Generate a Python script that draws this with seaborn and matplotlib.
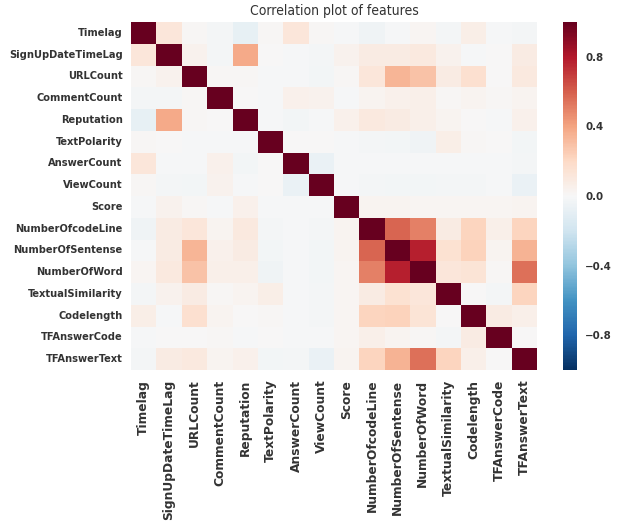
import numpy as np
import pandas as pd
import matplotlib
matplotlib.use("Agg")
import matplotlib.pyplot as plt
import seaborn as sns
from matplotlib import font_manager as fm

features = ["Timelag", "SignUpDateTimeLag", "URLCount", "CommentCount", "Reputation",
            "TextPolarity", "AnswerCount", "ViewCount", "Score", "NumberOfcodeLine",
            "NumberOfSentense", "NumberOfWord", "TextualSimilarity", "Codelength",
            "TFAnswerCode", "TFAnswerText"]

r_timelag      = [1.00, 0.12, 0.01, -0.02, -0.08, 0.01, 0.12, 0.01, -0.01, -0.04, -0.01, 0.02, -0.02, 0.07, -0.01, -0.02]
r_signup       = [0.12, 1.00, 0.04, -0.02, 0.38, 0.00, -0.01, -0.02, 0.04, 0.08, 0.08, 0.10, 0.04, -0.01, 0.00, 0.08]
r_urlcount     = [0.01, 0.04, 1.00, 0.01, 0.01, -0.01, -0.01, -0.03, 0.01, 0.12, 0.34, 0.29, 0.08, 0.16, 0.00, 0.10]
r_comment      = [-0.02, -0.02, 0.01, 1.00, 0.00, -0.01, 0.05, 0.04, -0.01, 0.03, 0.05, 0.06, 0.01, 0.03, 0.01, 0.03]
r_reputation   = [-0.08, 0.38, 0.01, 0.00, 1.00, -0.01, -0.03, -0.01, 0.05, 0.10, 0.08, 0.06, 0.03, 0.00, -0.01, 0.05]
r_polarity     = [0.01, 0.00, -0.01, -0.01, -0.01, 1.00, 0.00, 0.00, -0.01, -0.02, -0.03, -0.04, 0.07, 0.01, 0.00, -0.03]
r_answercount  = [0.12, -0.01, -0.01, 0.05, -0.03, 0.00, 1.00, -0.07, -0.01, -0.01, -0.01, -0.01, -0.01, -0.01, -0.01, -0.02]
r_viewcount    = [0.01, -0.02, -0.03, 0.04, -0.01, 0.00, -0.07, 1.00, -0.01, -0.02, -0.03, -0.03, -0.02, -0.02, -0.01, -0.07]
r_score        = [-0.01, 0.04, 0.01, -0.01, 0.05, -0.01, -0.01, -0.01, 1.00, 0.03, 0.03, 0.02, 0.02, 0.02, 0.02, 0.03]
r_codeline     = [-0.04, 0.08, 0.12, 0.03, 0.10, -0.02, -0.01, -0.02, 0.03, 1.00, 0.58, 0.50, 0.08, 0.22, 0.06, 0.22]
r_sentense     = [-0.01, 0.08, 0.34, 0.05, 0.08, -0.03, -0.01, -0.03, 0.03, 0.58, 1.00, 0.78, 0.15, 0.23, 0.03, 0.35]
r_word         = [0.02, 0.10, 0.29, 0.06, 0.06, -0.04, -0.01, -0.03, 0.02, 0.50, 0.78, 1.00, 0.12, 0.14, 0.01, 0.55]
r_textsim      = [-0.02, 0.04, 0.08, 0.01, 0.03, 0.07, -0.01, -0.02, 0.02, 0.08, 0.15, 0.12, 1.00, 0.00, -0.02, 0.22]
r_codelength   = [0.07, -0.01, 0.16, 0.03, 0.00, 0.01, -0.01, -0.02, 0.02, 0.22, 0.23, 0.14, 0.00, 1.00, 0.08, 0.06]
r_tfcode       = [-0.01, 0.00, 0.00, 0.01, -0.01, 0.00, -0.01, -0.01, 0.02, 0.06, 0.03, 0.01, -0.02, 0.08, 1.00, 0.00]
r_tftext       = [-0.02, 0.08, 0.10, 0.03, 0.05, -0.03, -0.02, -0.07, 0.03, 0.22, 0.35, 0.55, 0.22, 0.06, 0.00, 1.00]

rows = [r_timelag, r_signup, r_urlcount, r_comment, r_reputation, r_polarity,
        r_answercount, r_viewcount, r_score, r_codeline, r_sentense, r_word,
        r_textsim, r_codelength, r_tfcode, r_tftext]
corr = pd.DataFrame(rows, index=features, columns=features)

sns.set_style("white")
plt.rcParams['font.family'] = ['DejaVu Sans']

cond_bold = None
cond_reg = None
for f in fm.fontManager.ttflist:
    fn = f.fname.lower()
    if fn.endswith("dejavusanscondensed-bold.ttf"):
        cond_bold = f.fname
    if fn.endswith("dejavusanscondensed.ttf"):
        cond_reg = f.fname

def fp_cond_bold(size):
    if cond_bold:
        return fm.FontProperties(fname=cond_bold, size=size)
    return fm.FontProperties(family="DejaVu Sans", weight="bold", size=size * 0.9)

ytick_fp = fp_cond_bold(7.9)
xtick_fp = fm.FontProperties(family="DejaVu Sans", weight="bold", size=8.8)
cbar_fp = fp_cond_bold(8.2)
title_fp = (fm.FontProperties(fname=cond_reg, size=10) if cond_reg
            else fm.FontProperties(family="DejaVu Sans", size=9))

fig = plt.figure(figsize=(6.22, 5.22), dpi=100)
ax = fig.add_axes([131/622, 1 - 370/522, (537 - 131)/622, (370 - 22)/522])
cax = fig.add_axes([563/622, 1 - 370/522, 14/622, (370 - 22)/522])

sns.heatmap(corr, ax=ax, cbar_ax=cax, cmap="RdBu_r", vmin=-1, vmax=1,
            xticklabels=features, yticklabels=features,
            cbar_kws={"ticks": [-0.8, -0.4, 0.0, 0.4, 0.8]})

ax.set_title("Correlation plot of features", fontproperties=title_fp, color="#333333", pad=5)
ax.tick_params(axis="x", length=0, pad=7)
ax.tick_params(axis="y", length=0, pad=6)
for lab in ax.get_xticklabels():
    lab.set_rotation(90)
    lab.set_fontproperties(xtick_fp)
    lab.set_color("#333333")
for lab in ax.get_yticklabels():
    lab.set_rotation(0)
    lab.set_fontproperties(ytick_fp)
    lab.set_color("#333333")
cax.tick_params(length=0, pad=6)
cax.set_yticklabels(["\u22120.8", "\u22120.4", "0.0", "0.4", "0.8"])
for lab in cax.get_yticklabels():
    lab.set_fontproperties(cbar_fp)
    lab.set_color("#333333")
for s in cax.spines.values():
    s.set_visible(False)

fig.savefig("out.png", dpi=100)
